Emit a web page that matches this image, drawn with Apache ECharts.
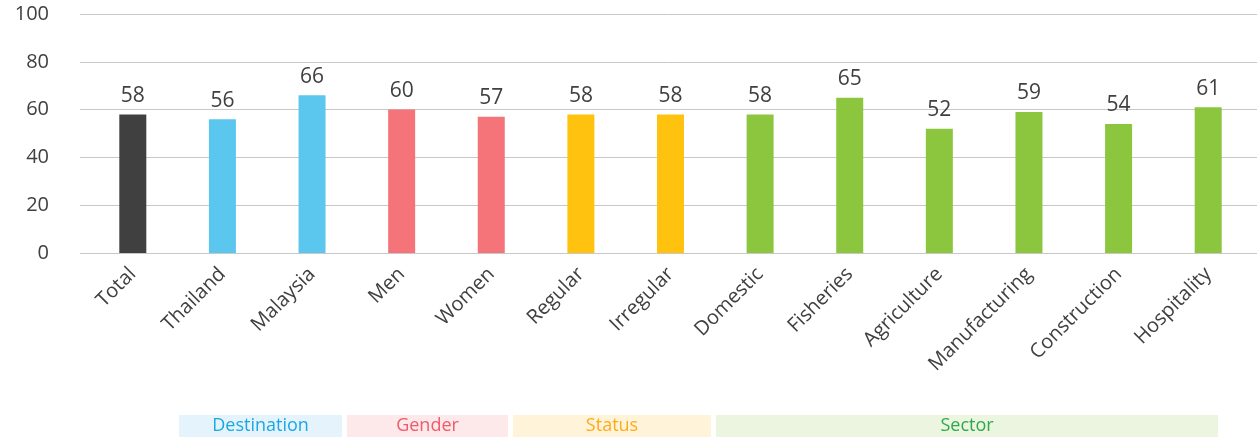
<!DOCTYPE html>
<html>
<head>
<meta charset="utf-8">
<script src="https://cdn.jsdelivr.net/npm/echarts@6/dist/echarts.min.js"></script>
<style>html,body{margin:0;padding:0;background:#fff}#c{width:1257px;height:437px}</style>
</head>
<body>
<div id="c"></div>
<script>
const categories = ['Total','Thailand','Malaysia','Men','Women','Regular','Irregular','Domestic','Fisheries','Agriculture','Manufacturing','Construction','Hospitality'];
const values = [58,56,66,60,57,58,58,58,65,52,59,54,61];
const groups = ['total','dest','dest','gender','gender','status','status','sector','sector','sector','sector','sector','sector'];
const yTicks = [0,20,40,60,80,100];
const groupLabels = ['Destination','Gender','Status','Sector'];

const barColors = {total:'#404041', dest:'#5BC7EE', gender:'#F47479', status:'#FFC20E', sector:'#8CC63F'};
const bandStyles = [
  {fill:'#E5F4FC', text:'#1BA8E0', x:179, w:163},
  {fill:'#FDE8EA', text:'#F05A6A', x:347, w:161},
  {fill:'#FFF4D9', text:'#FFAA1C', x:513, w:198},
  {fill:'#EBF5E0', text:'#2DAA4B', x:716, w:502}
];
const font = '"Open Sans", "Noto Sans", sans-serif';

const chart = echarts.init(document.getElementById('c'));
const graphics = [];
groupLabels.forEach((g,i)=>{
  const b = bandStyles[i];
  graphics.push({type:'rect', left:b.x, top:415, shape:{width:b.w, height:22}, style:{fill:b.fill}, silent:true});
  graphics.push({type:'text', x:b.x + b.w/2, y:426, style:{text:g, fill:b.text, font:'18px ' + font, textAlign:'center', textVerticalAlign:'middle'}, silent:true});
});

chart.setOption({
  animation:false,
  grid:[
    {left:88, right:4, top:14, bottom:184},
    {left:80, right:0, top:14, bottom:184}
  ],
  xAxis:[
    {type:'category', gridIndex:0, data:categories,
     axisLine:{show:false}, axisTick:{show:false},
     axisLabel:{rotate:45, interval:0, margin:18, fontSize:20, color:'#404040', fontFamily:font}},
    {type:'category', gridIndex:1, data:[], show:false}
  ],
  yAxis:[
    {type:'value', gridIndex:0, min:0, max:100, interval:20, show:false, splitLine:{show:false}},
    {type:'value', gridIndex:1, min:yTicks[0], max:yTicks[yTicks.length-1], interval:20,
     axisLine:{show:false}, axisTick:{show:false},
     axisLabel:{margin:31, fontSize:20, color:'#404040', fontFamily:font},
     splitLine:{lineStyle:{color:'#C8C8C8', width:1}}}
  ],
  series:[{
    type:'bar', xAxisIndex:0, yAxisIndex:0, barWidth:27,
    data: values.map((v,i)=>({value:v, itemStyle:{color:barColors[groups[i]]}})),
    label:{show:true, position:'top', distance:8, fontSize:21, color:'#404040', fontFamily:font}
  }],
  graphic: graphics
});
</script>
</body>
</html>
